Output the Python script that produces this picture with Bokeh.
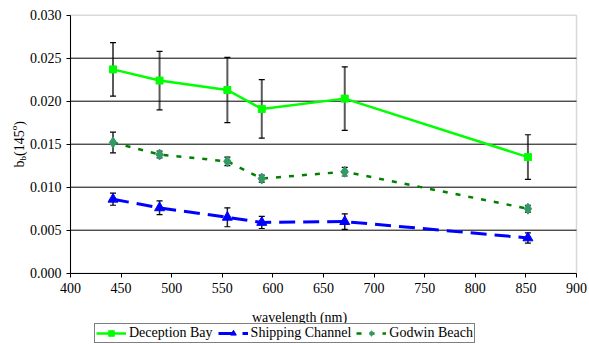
import math
from bokeh.plotting import figure
from bokeh.models import (ColumnDataSource, Whisker, TeeHead, Legend, LegendItem, Label,
                          FixedTicker, PrintfTickFormatter, Range1d, BoxAnnotation)
from bokeh.embed import file_html
from bokeh.resources import INLINE

# ---- data ----
wavelength = [442, 488, 555, 589, 671, 852]
deception_bay = [0.0237, 0.0224, 0.0213, 0.0191, 0.0203, 0.0135]
deception_err = [0.0031, 0.0034, 0.0038, 0.0034, 0.0037, 0.0026]
shipping_channel = [0.0086, 0.0076, 0.0065, 0.0059, 0.0060, 0.0041]
shipping_err = [0.0007, 0.0008, 0.0011, 0.0007, 0.0009, 0.0006]
godwin_beach = [0.0152, 0.0138, 0.0130, 0.0110, 0.0118, 0.0075]
godwin_err = [0.0012, 0.0004, 0.0005, 0.0004, 0.0005, 0.0004]
series_names = ["Deception Bay", "Shipping Channel", "Godwin Beach"]
x_ticks = [400, 450, 500, 550, 600, 650, 700, 750, 800, 850, 900]
y_ticks = [0.000, 0.005, 0.010, 0.015, 0.020, 0.025, 0.030]
x_label = "wavelength (nm)"

FONT = "'Liberation Serif'"
W, H = 589, 344
# plot-area placement inside the canvas (pixels)
PL, PR, PT, PB = 70, 576, 14.7, 272.7

x0, x1 = x_ticks[0], x_ticks[-1]
y0, y1 = y_ticks[0], y_ticks[-1]
sx = (x1 - x0) / (PR - PL)
sy = (y1 - y0) / (PB - PT)

p = figure(width=W, height=H, output_backend="svg", toolbar_location=None,
           x_range=Range1d(x0 - PL * sx, x1 + (W - PR) * sx),
           y_range=Range1d(y0 - (H - PB) * sy, y1 + PT * sy),
           min_border=0)
p.background_fill_color = "white"
p.border_fill_color = "white"
p.outline_line_color = None
p.grid.grid_line_color = None

# plot-area border (grey, like the original)
p.add_layout(BoxAnnotation(left=x0, right=x1, bottom=y0, top=y1, fill_alpha=0,
                           line_color="#808080", line_width=1.5, level="underlay"))

# horizontal gridlines at the inner y ticks
grid_y = y_ticks[1:-1]
p.segment(x0=[x0] * len(grid_y), x1=[x1] * len(grid_y), y0=grid_y, y1=grid_y,
          line_color="black", line_width=1)

xa, ya = p.xaxis[0], p.yaxis[0]
xa.fixed_location = y0
ya.fixed_location = x0
xa.bounds = (x0, x1)
ya.bounds = (y0, y1)
xa.ticker = FixedTicker(ticks=x_ticks)
ya.ticker = FixedTicker(ticks=y_ticks)
ya.formatter = PrintfTickFormatter(format="%.3f")
for ax in (xa, ya):
    ax.axis_line_color = "black"
    ax.axis_line_width = 1
    ax.major_tick_line_color = "black"
    ax.major_tick_in = 0
    ax.major_tick_out = 4
    ax.minor_tick_line_color = None
    ax.major_label_text_font = FONT
    ax.major_label_text_font_size = "14px"
    ax.major_label_text_color = "black"
xa.major_label_standoff = 6
ya.major_label_standoff = 5

styles = {
    "d": dict(line_color="#00FF00", line_width=2.5, marker="square", size=7, fill="#00FF00", dash="solid"),
    "s": dict(line_color="#0000FF", line_width=3, marker="triangle", size=10, fill="#0000FF", dash="16 8"),
    "g": dict(line_color="#008000", line_width=2.5, marker="diamond", size=11, fill="#339966", dash="5 8"),
}


def add_err(x, y, e, color, width):
    src = ColumnDataSource(dict(x=x, lo=[a - b for a, b in zip(y, e)], hi=[a + b for a, b in zip(y, e)]))
    p.add_layout(Whisker(base="x", lower="lo", upper="hi", source=src, line_color=color, line_width=width,
                         upper_head=TeeHead(size=6, line_color="black", line_width=1.2),
                         lower_head=TeeHead(size=6, line_color="black", line_width=1.2)))


add_err(wavelength, deception_bay, deception_err, "#5a5a5a", 2)
add_err(wavelength, godwin_beach, godwin_err, "#222222", 1.5)
add_err(wavelength, shipping_channel, shipping_err, "#222222", 1.5)

items = []
for name, key, ys in zip(series_names, ["d", "s", "g"], [deception_bay, shipping_channel, godwin_beach]):
    st = styles[key]
    src = ColumnDataSource(dict(x=wavelength, y=ys))
    ln = p.line("x", "y", source=src, line_color=st["line_color"], line_width=st["line_width"],
                line_dash=st["dash"])
    mk = p.scatter("x", "y", source=src, marker=st["marker"], size=st["size"],
                   fill_color=st["fill"], line_color=st["fill"])
    items.append(LegendItem(label=name, renderers=[ln, mk]))

# x-axis title
p.add_layout(Label(x=299, y=H - 316.5, x_units="screen", y_units="screen", text=x_label,
                   text_font=FONT, text_font_size="14px", text_align="center",
                   text_baseline="alphabetic", text_color="black"))

# y-axis title b_b(145^o)
bx = 19
pieces = [("b", 177.0, bx, "14px"),
          ("b", 184.0, bx + 3, "9px"),
          ("(145", 188.5, bx, "14px"),
          ("o", 214.2, bx - 6, "9px"),
          (")", 218.7, bx, "14px")]
for txt, yy, xx, fs in pieces:
    p.add_layout(Label(x=xx, y=yy, x_units="screen", y_units="screen", text=txt, angle=math.pi / 2,
                       text_font=FONT, text_font_size=fs, text_align="left",
                       text_baseline="alphabetic", text_color="black"))

legend = Legend(items=items, orientation="horizontal", location=(94, 0.7),
                label_text_font=FONT, label_text_font_size="14px", label_text_color="black",
                glyph_width=30, glyph_height=14, label_height=14, label_standoff=3, spacing=5,
                padding=1, margin=0, border_line_color="black", border_line_width=1,
                background_fill_color="white", background_fill_alpha=1)
p.add_layout(legend, "center")

open("out.html", "w").write(file_html(p, INLINE))
